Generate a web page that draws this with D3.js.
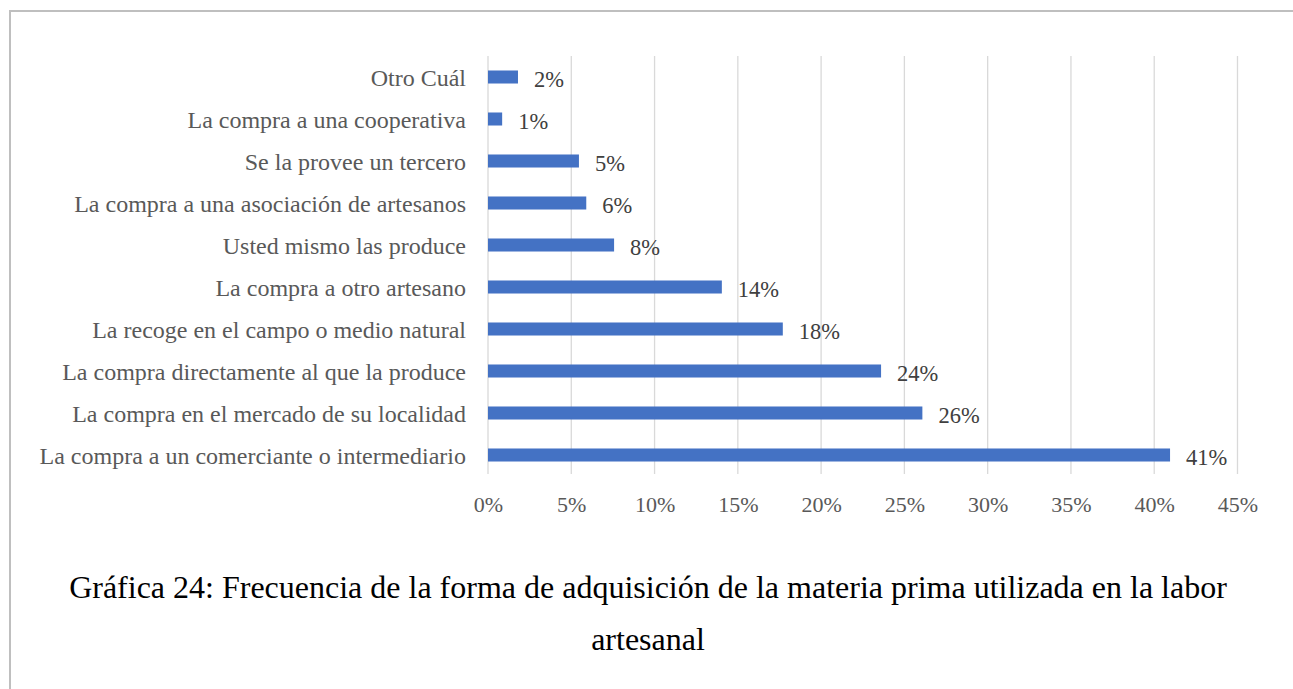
<!DOCTYPE html>
<html>
<head>
<meta charset="utf-8">
<script src="https://cdn.jsdelivr.net/npm/d3@7"></script>
<style>
  body { margin: 0; background: #fff; }
  svg { display: block; }
</style>
</head>
<body>
<div id="chart"></div>
<script>
// Data (top to bottom)
var categories = [
  "Otro Cuál",
  "La compra a una cooperativa",
  "Se la provee un tercero",
  "La compra a una asociación de artesanos",
  "Usted mismo las produce",
  "La compra a otro artesano",
  "La recoge en el campo o medio natural",
  "La compra directamente al que la produce",
  "La compra en el mercado de su localidad",
  "La compra a un comerciante o intermediario"
];
var values = [0.018, 0.0085, 0.0546, 0.059, 0.0757, 0.1404, 0.177, 0.236, 0.2608, 0.4095];
var valueLabels = ["2%", "1%", "5%", "6%", "8%", "14%", "18%", "24%", "26%", "41%"];
var xTicks = [0, 0.05, 0.10, 0.15, 0.20, 0.25, 0.30, 0.35, 0.40, 0.45];
var titleLines = [
  "Gráfica 24: Frecuencia de la forma de adquisición de la materia prima utilizada en la labor",
  "artesanal"
];

var W = 1293, H = 689;
var FONT = "Liberation Serif";
var margin = { top: 56, left: 488 };

var svg = d3.select("#chart")
  .append("svg")
  .attr("width", W)
  .attr("height", H);

// Frame (top and left borders visible)
svg.append("path")
  .attr("d", "M10,700 L10,11 L1300,11")
  .attr("fill", "none")
  .attr("stroke", "#bfbfbf")
  .attr("stroke-width", 2);

var g = svg.append("g")
  .attr("transform", "translate(" + margin.left + "," + margin.top + ")");

var x = d3.scaleLinear()
  .domain([0, 0.45])
  .range([0, 749.5]);

var y = d3.scaleBand()
  .domain(categories)
  .range([0, 420])
  .paddingInner(0.69)
  .paddingOuter(0.345);

// Gridlines
g.append("g")
  .selectAll("line")
  .data(xTicks)
  .join("line")
  .attr("x1", function (d) { return x(d); })
  .attr("x2", function (d) { return x(d); })
  .attr("y1", 0)
  .attr("y2", 418)
  .attr("stroke", "#d9d9d9")
  .attr("stroke-width", 1.3);

// X axis tick labels
var xAxis = g.append("g")
  .attr("transform", "translate(0,418)")
  .call(d3.axisBottom(x).tickValues(xTicks).tickFormat(d3.format(".0%")).tickSize(0).tickPadding(0));
xAxis.attr("font-family", FONT).attr("font-size", null);
xAxis.select(".domain").remove();
xAxis.selectAll("text")
  .attr("y", 38)
  .attr("dy", null)
  .attr("font-family", FONT)
  .attr("font-size", 22)
  .attr("fill", "#595959");

// Y axis category labels
var yAxis = g.append("g")
  .call(d3.axisLeft(y).tickSize(0).tickPadding(22));
yAxis.attr("font-family", FONT).attr("font-size", null);
yAxis.select(".domain").remove();
yAxis.selectAll("text")
  .attr("dy", "8.6")
  .attr("font-family", FONT)
  .attr("font-size", 24)
  .attr("fill", "#595959");

// Bars
g.selectAll(".bar")
  .data(values)
  .join("rect")
  .attr("class", "bar")
  .attr("x", 0)
  .attr("y", function (d, i) { return y(categories[i]); })
  .attr("width", function (d) { return x(d); })
  .attr("height", y.bandwidth())
  .attr("fill", "#4472c4");

// Value labels
g.selectAll(".lbl")
  .data(values)
  .join("text")
  .attr("class", "lbl")
  .attr("x", function (d) { return x(d) + 16; })
  .attr("y", function (d, i) { return y(categories[i]) + y.bandwidth() / 2 + 10; })
  .attr("font-family", FONT)
  .attr("font-size", 22.5)
  .attr("fill", "#404040")
  .text(function (d, i) { return valueLabels[i]; });

// Caption
svg.append("g")
  .selectAll("text")
  .data(titleLines)
  .join("text")
  .attr("x", 648)
  .attr("y", function (d, i) { return 598 + i * 52; })
  .attr("text-anchor", "middle")
  .attr("font-family", FONT)
  .attr("font-size", 32)
  .attr("fill", "#000")
  .text(function (d) { return d; });
</script>
</body>
</html>
